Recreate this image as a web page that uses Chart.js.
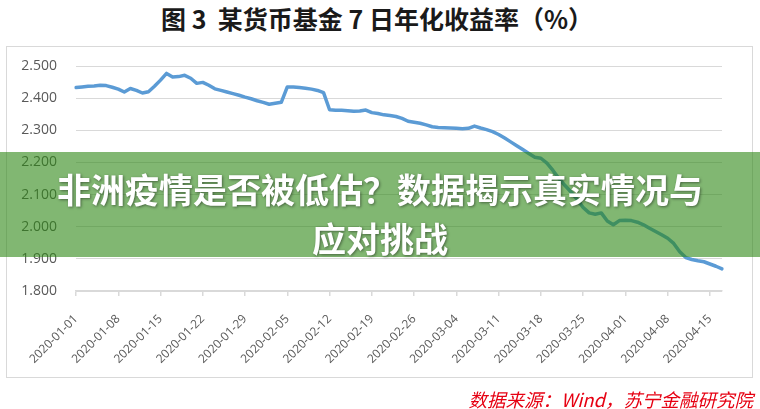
<!DOCTYPE html>
<html lang="zh-CN">
<head>
<meta charset="utf-8">
<title>某货币基金 7 日年化收益率</title>
<script src="https://cdn.jsdelivr.net/npm/chart.js@4.4.1/dist/chart.umd.min.js"></script>
<style>
  html, body { margin: 0; padding: 0; background: #fff; }
  #wrap { position: relative; width: 760px; height: 409px; overflow: hidden; }
  #title {
    position: absolute; left: 0; top: 2px; width: 754px; text-align: center;
    font: bold 25px "Noto Sans CJK SC", sans-serif; color: #1a1a1a; line-height: 32px;
  }
  #frame {
    position: absolute; left: 6px; top: 46px; width: 745px; height: 330px;
    border: 1.5px solid #d9d9d9;
  }
  #chart { position: absolute; left: 0; top: 0; }
  #banner {
    position: absolute; left: 0; top: 152px; width: 760px; height: 105px;
    box-sizing: border-box; padding-top: 12px;
    background: rgba(45, 135, 20, 0.6);
    color: #fff; text-align: center; line-height: 40px;
    font: bold 34px "Noto Sans CJK SC", sans-serif;
    text-shadow: 1px 1px 3px rgba(0, 0, 0, 0.45);
  }
  #source {
    position: absolute; right: 7px; top: 386px; line-height: 22px;
    font: italic 18.5px "Noto Sans CJK SC", sans-serif; color: #e60012;
  }
</style>
</head>
<body>
<div id="wrap">
  <div id="title">图 3&nbsp; 某货币基金 7 日年化收益率（%）</div>
  <div id="frame"></div>
  <canvas id="chart" width="760" height="409"></canvas>
  <div id="banner">非洲疫情是否被低估？数据揭示真实情况与<br>应对挑战</div>
  <div id="source">数据来源：Wind，苏宁金融研究院</div>
</div>
<script>
// 7 日年化收益率（%），2020-01-01 起逐日
const startDate = '2020-01-01';
const yieldValues = [
    2.433, 2.435, 2.437, 2.438, 2.440, 2.439, 2.434,
    2.428, 2.419, 2.430, 2.424, 2.416, 2.420, 2.437,
    2.456, 2.477, 2.466, 2.467, 2.471, 2.462, 2.446,
    2.449, 2.440, 2.429, 2.424, 2.419, 2.414, 2.409,
    2.403, 2.398, 2.392, 2.387, 2.381, 2.384, 2.387,
    2.435, 2.435, 2.433, 2.431, 2.428, 2.424, 2.417,
    2.364, 2.362, 2.362, 2.361, 2.359, 2.360, 2.363,
    2.355, 2.352, 2.348, 2.346, 2.343, 2.337, 2.328,
    2.325, 2.322, 2.317, 2.311, 2.309, 2.308, 2.307,
    2.306, 2.305, 2.306, 2.313, 2.307, 2.302, 2.296,
    2.287, 2.276, 2.264, 2.252, 2.240, 2.228, 2.216,
    2.213, 2.198, 2.175, 2.150, 2.128, 2.108, 2.085,
    2.060, 2.043, 2.039, 2.043, 2.018, 2.006, 2.019,
    2.020, 2.019, 2.014, 2.006, 1.995, 1.985, 1.975,
    1.964, 1.948, 1.922, 1.904, 1.898, 1.894, 1.891,
    1.884, 1.877, 1.869
];
const tickLabels = [
    '2020-01-01', '2020-01-08', '2020-01-15', '2020-01-22', '2020-01-29',
    '2020-02-05', '2020-02-12', '2020-02-19', '2020-02-26', '2020-03-04',
    '2020-03-11', '2020-03-18', '2020-03-25', '2020-04-01', '2020-04-08',
    '2020-04-15'
];
const yMin = 1.8;
const yMax = 2.5;
const yStep = 0.1;

// 日期类别轴：每天一个类别
const dates = [];
const t0 = Date.parse(startDate + 'T00:00:00Z');
for (let i = 0; i < yieldValues.length; i++) {
    dates.push(new Date(t0 + i * 86400000).toISOString().slice(0, 10));
}

const axisFamily = '"Open Sans", "Liberation Sans", sans-serif';
const gridColor = '#d9d9d9';

new Chart(document.getElementById('chart'), {
    type: 'line',
    data: {
        labels: dates,
        datasets: [{
            data: yieldValues,
            borderColor: '#5b9bd5',
            borderWidth: 3.5,
            borderJoinStyle: 'round',
            borderCapStyle: 'round',
            pointRadius: 0,
            tension: 0,
            fill: false
        }]
    },
    options: {
        responsive: false,
        animation: false,
        events: [],
        layout: { padding: { left: 0, top: 66, right: 38, bottom: 38 } },
        plugins: {
            legend: { display: false },
            tooltip: { enabled: false }
        },
        scales: {
            x: {
                type: 'category',
                offset: false,
                afterFit: (scale) => { scale.height = 80; },
                grid: {
                    drawOnChartArea: false,
                    drawTicks: true,
                    tickLength: 5,
                    color: gridColor,
                    lineWidth: 1.5
                },
                border: { display: true, color: gridColor, width: 1.5 },
                ticks: {
                    autoSkip: false,
                    minRotation: 45,
                    maxRotation: 45,
                    padding: 16,
                    color: '#595959',
                    font: { family: axisFamily, size: 12 },
                    callback: function (value) {
                        const label = this.getLabelForValue(value);
                        return tickLabels.includes(label) ? label : null;
                    }
                }
            },
            y: {
                min: yMin,
                max: yMax,
                afterFit: (scale) => { scale.width = 76; },
                grid: { color: gridColor, lineWidth: 1, drawTicks: false },
                border: { display: false },
                ticks: {
                    stepSize: yStep,
                    padding: 19,
                    color: '#595959',
                    font: { family: axisFamily, size: 14 },
                    callback: (v) => Number(v).toFixed(3)
                }
            }
        }
    }
});
</script>
</body>
</html>
